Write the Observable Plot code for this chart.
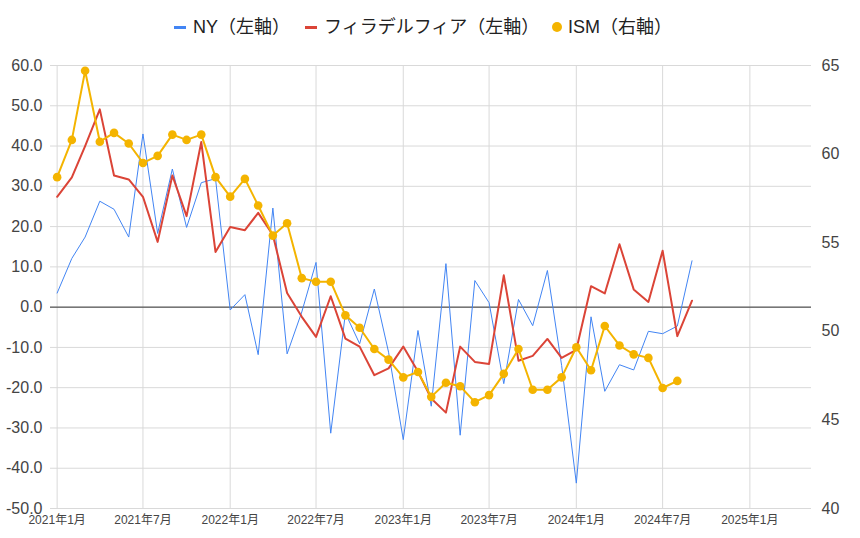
<!DOCTYPE html>
<html><head><meta charset="utf-8">
<script src="https://cdn.jsdelivr.net/npm/d3@7"></script>
<script src="https://cdn.jsdelivr.net/npm/@observablehq/plot@0.6"></script>
<style>
body{margin:0;background:#fff;font-family:"Liberation Sans",Arial,"Noto Sans CJK JP",sans-serif;}
#wrap{position:relative;width:860px;height:538px;overflow:hidden;}
#legend{position:absolute;top:0;left:0;width:860px;height:50px;font-size:18px;color:#222;}
.item{position:absolute;top:16px;height:22px;line-height:22px;white-space:nowrap;display:flex;align-items:center;}
.dash{display:inline-block;width:12px;height:3px;margin-right:7px;}
.dot{display:inline-block;width:10px;height:10px;border-radius:50%;margin-right:6px;}
#base,#over{position:absolute;top:50px;left:0;}
</style></head>
<body>
<div id="wrap">
  <div id="legend"></div>
  <div id="base"></div>
  <div id="over"></div>
</div>
<script>
// --- data ---
const seriesNames = ["NY（左軸）", "フィラデルフィア（左軸）", "ISM（右軸）"];
const seriesColors = ["#4285f4", "#db4437", "#f4b400"];
const startMonth = "2021-01";
const ny = [3.5,12.1,17.4,26.3,24.3,17.4,43.0,18.3,34.3,19.8,30.9,31.9,
  -0.7,3.1,-11.8,24.6,-11.6,-1.2,11.1,-31.3,-1.5,-9.1,4.5,-11.2,
  -32.9,-5.8,-24.6,10.8,-31.8,6.6,1.1,-19.0,1.9,-4.6,9.1,-14.5,
  -43.7,-2.4,-20.9,-14.3,-15.6,-6.0,-6.6,-4.7,11.5];
const philly = [27.4,32.2,40.0,49.1,32.7,31.7,27.4,16.2,32.7,22.6,41.0,13.7,
  19.9,19.1,23.4,17.9,3.5,-2.4,-7.4,2.7,-7.8,-9.8,-16.9,-15.2,
  -9.8,-16.0,-22.7,-26.2,-9.8,-13.6,-14.1,7.9,-13.3,-12.1,-7.9,-12.6,
  -10.6,5.2,3.4,15.6,4.4,1.3,14.0,-7.2,1.6];
const ism = [58.7,60.8,64.7,60.7,61.2,60.6,59.5,59.9,61.1,60.8,61.1,58.7,
  57.6,58.6,57.1,55.4,56.1,53.0,52.8,52.8,50.9,50.2,49.0,48.4,
  47.4,47.7,46.3,47.1,46.9,46.0,46.4,47.6,49.0,46.7,46.7,47.4,
  49.1,47.8,50.3,49.2,48.7,48.5,46.8,47.2];
const xTickLabels = ["2021-01","2021-07","2022-01","2022-07","2023-01","2023-07","2024-01","2024-07","2025-01"];
const leftTicks = [60,50,40,30,20,10,0,-10,-20,-30,-40,-50];
const rightTicks = [65,60,55,50,45,40];

// --- tables ---
const parse = s => new Date(s + "-01T00:00:00Z");
const start = parse(startMonth);
const monthAt = i => d3.utcMonth.offset(start, i);
const nyData = ny.map((v,i)=>({date:monthAt(i), value:v}));
const phData = philly.map((v,i)=>({date:monthAt(i), value:v}));
const ismData = ism.map((v,i)=>({date:monthAt(i), value:v}));
const xTicks = xTickLabels.map(parse);
const fmtX = d => `${d.getUTCFullYear()}年${d.getUTCMonth()+1}月`;

const W = 860, H = 488, mL = 50, mR = 49, mT = 15, mB = 30;
const xDomain = [new Date("2020-12-18T00:00:00Z"), new Date("2025-05-11T00:00:00Z")];
const font = '"Liberation Sans", Arial, "Noto Sans CJK JP", sans-serif';

// --- legend ---
const legend = document.getElementById("legend");
const lefts = [174, 305, 552];
seriesNames.forEach((n,i)=>{
  const it = document.createElement("div");
  it.className = "item";
  it.style.left = lefts[i] + "px";
  const m = document.createElement("span");
  m.className = i === 2 ? "dot" : "dash";
  m.style.background = seriesColors[i];
  it.appendChild(m);
  const t = document.createElement("span");
  t.textContent = n;
  it.appendChild(t);
  legend.appendChild(it);
});

// --- base plot (left axis) ---
const base = Plot.plot({
  width: W, height: H,
  marginLeft: mL, marginRight: mR, marginTop: mT, marginBottom: mB,
  style: {fontFamily: font, color: "#444", background: "transparent", overflow: "visible"},
  x: {type: "utc", domain: xDomain},
  y: {domain: [-50, 60]},
  marks: [
    Plot.ruleY(leftTicks, {stroke: "#d9d9d9", strokeWidth: 1}),
    Plot.ruleX(xTicks, {stroke: "#d9d9d9", strokeWidth: 1}),
    Plot.ruleY([0], {stroke: "#333", strokeWidth: 1}),
    Plot.axisY({ticks: leftTicks, tickFormat: d => d.toFixed(1), tickSize: 0, tickPadding: 8, fontSize: 16, label: null}),
    Plot.axisX({ticks: xTicks, tickFormat: fmtX, tickSize: 0, tickPadding: 7, fontSize: 12, label: null}),
    Plot.line(nyData, {x: "date", y: "value", stroke: seriesColors[0], strokeWidth: 1}),
    Plot.line(phData, {x: "date", y: "value", stroke: seriesColors[1], strokeWidth: 2})
  ]
});
document.getElementById("base").appendChild(base);

// --- overlay plot (right axis) ---
const over = Plot.plot({
  width: W, height: H,
  marginLeft: mL, marginRight: mR, marginTop: mT, marginBottom: mB,
  style: {fontFamily: font, color: "#444", background: "transparent", overflow: "visible"},
  x: {type: "utc", domain: xDomain, axis: null},
  y: {domain: [40, 65], axis: null},
  marks: [
    Plot.axisY({anchor: "right", ticks: rightTicks, tickFormat: d => String(d), tickSize: 0, tickPadding: 10, fontSize: 16, label: null}),
    Plot.line(ismData, {x: "date", y: "value", stroke: seriesColors[2], strokeWidth: 2}),
    Plot.dot(ismData, {x: "date", y: "value", r: 4.3, fill: seriesColors[2], stroke: "none"})
  ]
});
document.getElementById("over").appendChild(over);
</script>
</body></html>
